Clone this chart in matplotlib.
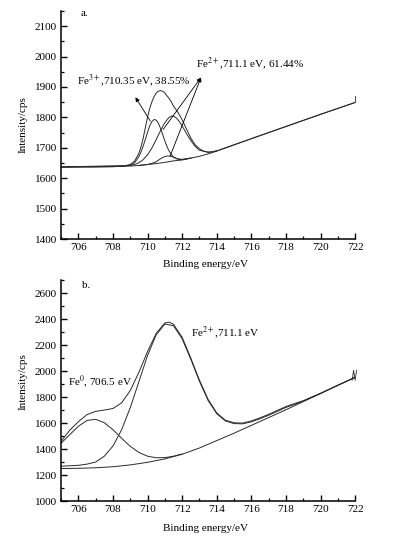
import numpy as np
import matplotlib
matplotlib.use("Agg")
import matplotlib.pyplot as plt
import matplotlib.transforms as mtransforms
from matplotlib.ticker import MultipleLocator

plt.rcParams['font.family'] = ['Liberation Serif', 'DejaVu Serif']
plt.rcParams['mathtext.fontset'] = 'stix'

# ---- panel a: Fe 2p3/2 fit ----
bg_a_x = [705, 706, 707, 708, 709, 709.5, 710, 710.5, 711, 711.5, 712, 712.5,
          713, 713.5, 714, 716, 718, 720, 722]
bg_a_y = [1637, 1637, 1637, 1638, 1640, 1642, 1645, 1648, 1652, 1657, 1660, 1666,
          1672, 1680, 1689, 1730, 1770, 1810, 1849]

fe3_a_x = [705, 708.5, 709, 709.25, 709.5, 709.625, 709.75, 709.875, 710, 710.125,
           710.25, 710.375, 710.5, 710.625, 710.75, 710.875, 711, 711.125, 711.25,
           711.375, 711.5, 711.75, 712, 712.5]
fe3_a_y = [1637, 1639, 1643, 1651, 1671, 1687, 1706, 1728, 1751, 1772,
           1786, 1793, 1791, 1781, 1764, 1744, 1723, 1704, 1689,
           1678, 1670, 1662, 1661, 1666]

fe2_a_x = [705, 709, 709.25, 709.5, 709.75, 710, 710.25, 710.5, 710.625, 710.75,
           710.875, 711, 711.125, 711.25, 711.375, 711.5, 711.625, 711.75, 711.875,
           712, 712.25, 712.5, 712.75, 713, 713.5, 714]
fe2_a_y = [1637, 1642, 1645, 1651, 1661, 1677, 1699, 1727, 1742, 1756,
           1770, 1782, 1792, 1800, 1804, 1804, 1800, 1793, 1783,
           1772, 1747, 1724, 1705, 1692, 1685, 1690]

sat_a_x = [709.5, 710, 710.25, 710.5, 710.625, 710.75, 710.875, 711, 711.125, 711.25,
           711.375, 711.5, 711.625, 711.75, 712, 712.5]
sat_a_y = [1642, 1645, 1649, 1654, 1659, 1664, 1668, 1671, 1673, 1673,
           1672, 1669, 1666, 1664, 1662, 1666]

env_a_x = [705, 708, 708.5, 709, 709.25, 709.5, 709.625, 709.75, 709.875, 710,
           710.125, 710.25, 710.375, 710.5, 710.625, 710.75, 710.875, 711, 711.125,
           711.25, 711.375, 711.5, 711.625, 711.75, 711.875, 712, 712.125, 712.25,
           712.375, 712.5, 712.75, 713, 713.25, 713.5, 713.75, 714, 716, 718, 720, 722]
env_a_y = [1637, 1638, 1639, 1645, 1656, 1682, 1704, 1732, 1767, 1801,
           1829, 1851, 1868, 1880, 1886, 1888, 1886, 1880, 1871,
           1862, 1851, 1837, 1827, 1817, 1805, 1792, 1777, 1762,
           1747, 1732, 1710, 1697, 1689, 1686, 1686, 1690, 1730, 1770, 1810, 1849]

# ---- panel b ----
bg_b_x = [705, 706, 707, 708, 709, 710, 711, 712, 713, 714, 715, 716, 717, 718,
          719, 720, 721, 722]
bg_b_y = [1250, 1252, 1256, 1264, 1278, 1298, 1324, 1360, 1408, 1465, 1522, 1582,
          1642, 1702, 1765, 1827, 1890, 1952]

fe0_b_x = [705, 705.5, 706, 706.5, 707, 707.5, 708, 708.5, 709, 709.5, 710, 710.5,
           711, 711.5, 712]
fe0_b_y = [1445, 1510, 1575, 1620, 1629, 1603, 1549, 1483, 1421, 1374, 1345, 1333,
           1334, 1345, 1362]

fe2_b_x = [705, 706, 706.5, 707, 707.5, 708, 708.5, 709, 709.5, 710, 710.5, 711,
           711.5, 712, 712.5, 713, 713.5, 714, 714.5, 715, 715.5, 716, 716.5, 717,
           717.5, 718, 718.5, 719, 720, 721, 722]
fe2_b_y = [1268, 1275, 1284, 1300, 1345, 1423, 1548, 1718, 1918, 2120, 2279, 2362,
           2349, 2248, 2092, 1922, 1774, 1672, 1616, 1596, 1594, 1610, 1633, 1660,
           1690, 1720, 1744, 1768, 1828, 1890, 1952]

env_b_x = [705, 705.5, 706, 706.5, 707, 707.5, 708, 708.5, 709, 709.5, 710, 710.5,
           711, 711.25, 711.5, 712, 712.5, 713, 713.5, 714, 714.5, 715, 715.5, 716,
           716.5, 717, 717.5, 718, 718.5, 719, 720, 721, 722]
env_b_y = [1458, 1545, 1610, 1665, 1690, 1700, 1712, 1755, 1850, 1990, 2150, 2290,
           2370, 2376, 2360, 2260, 2100, 1930, 1782, 1678, 1622, 1602, 1600, 1616,
           1640, 1667, 1697, 1727, 1750, 1772, 1829, 1891, 1952]

lc = '#2a2a2a'
lw = 0.7

fig = plt.figure(figsize=(3.99, 5.47), dpi=100)
ax1 = fig.add_axes([0.153, 0.563, 0.737, 0.417])
ax2 = fig.add_axes([0.153, 0.084, 0.737, 0.404])


def style(ax, ylo, yhi, ymaj):
    ax.set_xlim(705, 722)
    ax.set_ylim(ylo, yhi)
    ax.xaxis.set_major_locator(MultipleLocator(2))
    ax.xaxis.set_minor_locator(MultipleLocator(1))
    ax.yaxis.set_major_locator(MultipleLocator(ymaj))
    ax.yaxis.set_minor_locator(MultipleLocator(ymaj / 2))
    ax.set_xticks(np.arange(706, 723, 2))
    for s in ['top', 'right']:
        ax.spines[s].set_visible(False)
    for s in ['left', 'bottom']:
        ax.spines[s].set_linewidth(1.1)
    ax.tick_params(which='major', direction='in', length=4, width=1.0,
                   labelsize=8, pad=3)
    ax.tick_params(which='minor', direction='in', length=2.5, width=0.9)
    ax.set_ylabel('Intensity/cps', fontsize=8)
    ax.set_xlabel('Binding energy/eV', fontsize=8)


def end_mark(ax, x, y, pts):
    tr = mtransforms.Affine2D() + mtransforms.ScaledTranslation(x, y, ax.transData)
    px, py = zip(*pts)
    ax.plot(px, py, color=lc, lw=0.6, transform=tr, clip_on=False)


# panel a
style(ax1, 1400, 2150, 100)
ax1.plot(bg_a_x, bg_a_y, color=lc, lw=lw)
ax1.plot(fe3_a_x, fe3_a_y, color=lc, lw=lw)
ax1.plot(fe2_a_x, fe2_a_y, color=lc, lw=lw)
ax1.plot(sat_a_x, sat_a_y, color=lc, lw=lw)
ax1.plot(env_a_x, env_a_y, color=lc, lw=lw)
end_mark(ax1, bg_a_x[-1], bg_a_y[-1], [(0, 0), (0, 6)])
ax1.yaxis.set_label_coords(-0.115, 0.5)
ax1.xaxis.set_label_coords(0.49, -0.09)
ax1.text(706.15, 2140, 'a.', fontsize=8, ha='left', va='center')
ax1.text(705.95, 1922, 'Fe$^{3+}$,710.35 eV, 38.55%', fontsize=8, ha='left', va='center')
ax1.text(712.8, 1975, 'Fe$^{2+}$,711.1 eV, 61.44%', fontsize=8, ha='left', va='center')
arr = dict(arrowstyle='-|>', lw=0.6, color='k', mutation_scale=6, shrinkA=0, shrinkB=0)
ax1.annotate('', xy=(709.3, 1866), xytext=(710.16, 1788), arrowprops=arr)
ax1.annotate('', xy=(713.09, 1931), xytext=(710.9, 1760), arrowprops=arr)
ax1.annotate('', xy=(713.09, 1931), xytext=(711.3, 1672), arrowprops=arr)

# panel b
style(ax2, 1000, 2700, 200)
ax2.plot(bg_b_x, bg_b_y, color=lc, lw=lw)
ax2.plot(fe0_b_x, fe0_b_y, color=lc, lw=lw)
ax2.plot(fe2_b_x, fe2_b_y, color=lc, lw=lw)
ax2.plot(env_b_x, env_b_y, color=lc, lw=lw)
end_mark(ax2, bg_b_x[-1], bg_b_y[-1], [(-3, -3), (-1.5, 7), (0, -3), (1.5, 7)])
ax2.yaxis.set_label_coords(-0.115, 0.54)
ax2.xaxis.set_label_coords(0.49, -0.105)
ax2.text(706.2, 2660, 'b.', fontsize=8, ha='left', va='center')
ax2.text(705.4, 1915, 'Fe$^{0}$, 706.5 eV', fontsize=8, ha='left', va='center')
ax2.text(712.5, 2292, 'Fe$^{2+}$,711.1 eV', fontsize=8, ha='left', va='center')

fig.savefig('out.png', dpi=100)
